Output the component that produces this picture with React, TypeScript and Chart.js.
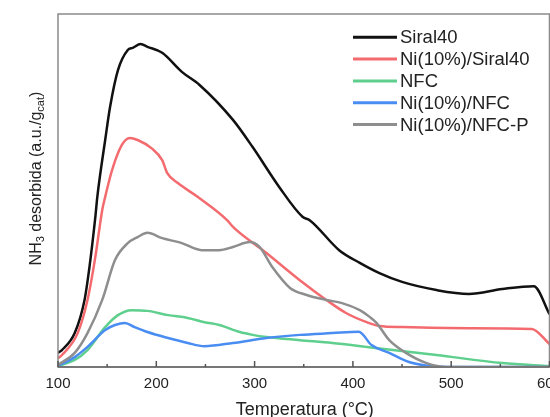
import React, { useEffect, useRef } from "react";
import { Chart, registerables } from "chart.js";

Chart.register(...registerables);

const xTickValues = [100, 200, 300, 400, 500, 600];
const seriesNames = ["Siral40", "Ni(10%)/Siral40", "NFC", "Ni(10%)/NFC", "Ni(10%)/NFC-P"];

const siral40T = [100, 104, 117, 127, 132, 138, 140, 148, 153, 161, 171, 176, 184, 191, 206, 226, 244, 278, 298, 325, 349, 356, 386, 407, 427, 450, 485, 518, 552, 584, 600];
const siral40V = [4, 4.8, 9.6, 19, 28.3, 42.5, 48.2, 64.3, 73.7, 84.1, 89.8, 90.4, 91.5, 90.7, 89, 83.6, 79.9, 70, 62.3, 51, 42.5, 41.6, 33.1, 29.5, 26.6, 24.1, 21.8, 20.7, 22.1, 22.9, 15];

const niSiralT = [100, 104, 120, 130, 138, 145, 148, 155, 165, 173, 181, 195, 206, 211, 222, 242, 272, 278, 312, 346, 373, 393, 414, 427, 450, 518, 582, 600];
const niSiralV = [2.5, 3.4, 9.6, 19, 31.2, 44.5, 48.2, 55.8, 62.9, 64.9, 64.3, 62, 58.6, 55, 52.1, 48.2, 41.6, 39.7, 32.3, 24.6, 19, 15.3, 12.7, 11.6, 11.3, 11, 10.8, 6.5];

const nfcT = [100, 117, 130, 148, 161, 175, 191, 212, 232, 249, 264, 285, 298, 312, 346, 379, 414, 485, 552, 600];
const nfcV = [0.3, 2, 4.8, 11.3, 14.7, 16.1, 15.9, 14.7, 13.9, 12.7, 11.9, 9.9, 9.1, 8.5, 7.6, 6.8, 5.7, 3.4, 1.1, 0.2];

const niNfcT = [100, 117, 130, 148, 158, 168, 178, 191, 212, 232, 249, 278, 312, 346, 379, 406, 419, 437, 457, 478, 498, 600];
const niNfcV = [0.3, 2.8, 5.7, 10.5, 11.9, 12.5, 11.3, 9.9, 8.2, 6.8, 5.9, 6.8, 8.2, 9.1, 9.6, 10, 6.2, 4, 1.4, 0.3, 0, 0];

const niNfcPT = [100, 117, 130, 145, 158, 171, 181, 191, 206, 226, 246, 264, 278, 295, 305, 318, 336, 353, 373, 389, 407, 417, 424, 437, 454, 475, 495, 600];
const niNfcPV = [0.6, 4, 9.6, 19, 30.3, 35.1, 36.8, 38, 36.5, 35.1, 33.1, 33.1, 34, 35.4, 34, 28.3, 22.4, 20.4, 19, 18.1, 16.1, 14.2, 12.5, 7.6, 4, 1.1, 0, 0];

const seriesT = [siral40T, niSiralT, nfcT, niNfcT, niNfcPT];
const seriesV = [siral40V, niSiralV, nfcV, niNfcV, niNfcPV];
const seriesColors = ["#111111", "#f36b6f", "#5fcf8e", "#4a8df2", "#8e8e8e"];

const FONT = "'Liberation Sans', Arial, sans-serif";

const decorPlugin = {
  id: "decor",
  afterDraw(chart: any) {
    const ctx = chart.ctx as CanvasRenderingContext2D;
    const { left, right, top, bottom } = chart.chartArea;
    const xs = chart.scales.x;
    ctx.save();
    // frame
    ctx.strokeStyle = "#8a8a8a";
    ctx.lineWidth = 1.5;
    ctx.strokeRect(left, top, right - left, bottom - top);
    ctx.strokeStyle = "#777";
    ctx.lineWidth = 2;
    ctx.beginPath();
    ctx.moveTo(left, bottom);
    ctx.lineTo(right, bottom);
    ctx.stroke();
    // inward ticks
    ctx.lineWidth = 1.5;
    ctx.strokeStyle = "#555";
    for (let t = 100; t <= 600; t += 50) {
      const px = xs.getPixelForValue(t);
      const len = t % 100 === 0 ? 6 : 3;
      ctx.beginPath();
      ctx.moveTo(px, bottom);
      ctx.lineTo(px, bottom - len);
      ctx.stroke();
    }
    // x title
    ctx.fillStyle = "#222";
    ctx.font = `18px ${FONT}`;
    ctx.textAlign = "center";
    ctx.textBaseline = "alphabetic";
    ctx.fillText("Temperatura (°C)", (left + right) / 2 + 1, 415);
    // y title with subscripts
    const parts: [string, boolean][] = [
      ["NH", false],
      ["3", true],
      [" desorbida (a.u./g", false],
      ["cat", true],
      [")", false],
    ];
    const big = `16px ${FONT}`;
    const small = `11px ${FONT}`;
    let total = 0;
    for (const [s, sub] of parts) {
      ctx.font = sub ? small : big;
      total += ctx.measureText(s).width;
    }
    ctx.translate(35, 178.5);
    ctx.rotate(-Math.PI / 2);
    ctx.textAlign = "left";
    let cx = -total / 2;
    for (const [s, sub] of parts) {
      ctx.font = sub ? small : big;
      ctx.fillText(s, cx, sub ? 9 : 6);
      cx += ctx.measureText(s).width;
    }
    ctx.setTransform(1, 0, 0, 1, 0, 0);
    // legend
    ctx.font = `18.5px ${FONT}`;
    ctx.textBaseline = "middle";
    ctx.textAlign = "left";
    seriesNames.forEach((name, i) => {
      const y = 37.3 + i * 21.8;
      ctx.strokeStyle = seriesColors[i];
      ctx.lineWidth = 3;
      ctx.beginPath();
      ctx.moveTo(353, y);
      ctx.lineTo(397, y);
      ctx.stroke();
      ctx.fillStyle = "#222";
      ctx.fillText(name, 400, y + 1);
    });
    ctx.restore();
  },
};

export default function App() {
  const ref = useRef<HTMLCanvasElement | null>(null);
  useEffect(() => {
    if (!ref.current) return;
    const datasets = seriesNames.map((name, i) => ({
      label: name,
      data: seriesT[i].map((t, j) => ({ x: t, y: seriesV[i][j] })),
      borderColor: seriesColors[i],
      backgroundColor: seriesColors[i],
      borderWidth: 2.5,
      pointRadius: 0,
      cubicInterpolationMode: "monotone" as const,
      fill: false,
    }));
    const chart = new Chart(ref.current, {
      type: "line",
      data: { datasets: datasets.reverse() },
      options: {
        animation: false,
        responsive: false,
        devicePixelRatio: 1,
        layout: { padding: { left: 58, top: 14, right: 18, bottom: 0 } },
        plugins: { legend: { display: false }, tooltip: { enabled: false } },
        scales: {
          x: {
            type: "linear",
            min: 100,
            max: 600,
            afterBuildTicks: (s: any) => {
              s.ticks = xTickValues.map((v) => ({ value: v }));
            },
            afterFit: (s: any) => {
              s.height = 50;
            },
            grid: { display: false, drawTicks: false },
            border: { display: false },
            ticks: {
              padding: 8,
              color: "#222",
              font: { size: 15, family: FONT },
              maxRotation: 0,
            },
          },
          y: { display: false, min: 0, max: 100 },
        },
      },
      plugins: [decorPlugin],
    });
    return () => chart.destroy();
  }, []);
  return (
    <div
      style={{
        position: "fixed",
        left: 0,
        top: 0,
        width: 550,
        height: 417,
        overflow: "hidden",
        background: "#fff",
      }}
    >
      <canvas ref={ref} width={570} height={417} style={{ display: "block" }} />
    </div>
  );
}
